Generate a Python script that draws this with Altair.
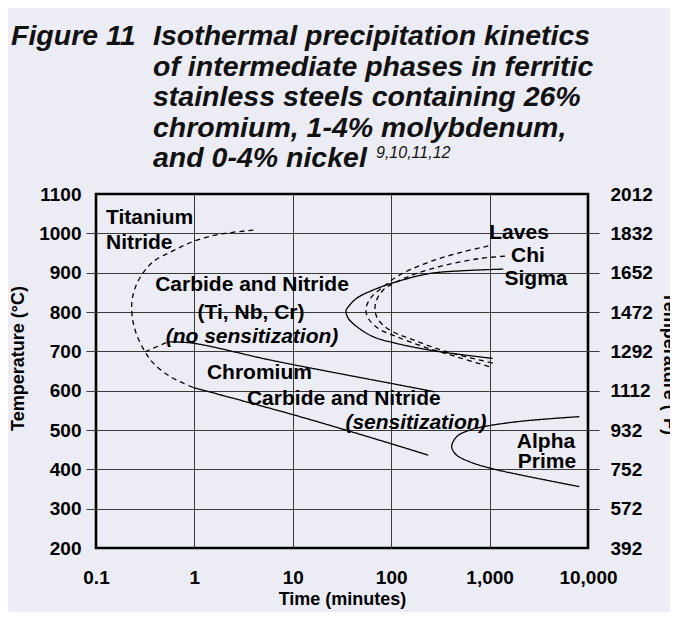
import altair as alt
import pandas as pd

# ---------------- data ----------------
# Titanium nitride C-curve (dashed), continuing into the lower chromium-carbide branch
ti_time = [3.97, 1.82, 1.01, 0.61, 0.382, 0.291, 0.249, 0.231, 0.236, 0.259, 0.315, 0.382, 0.565, 0.975]
ti_temp = [1008, 998, 981, 956, 928, 894, 860, 822, 780, 742, 699, 670, 636, 608]

# short dashed link from nose to upper chromium-carbide line
cr_link_time = [0.315, 0.54]
cr_link_temp = [699, 724]

# Chromium carbide and nitride (solid lines)
cr_upper_time = [0.54, 0.95, 5.87, 23.9, 97.2, 279]
cr_upper_temp = [724, 721, 678, 648, 619, 597]
cr_lower_time = [0.975, 11.8, 97.2, 238]
cr_lower_temp = [608, 534, 466, 436]

# Sigma (solid)
sigma_time = [1377, 541, 248, 113.7, 65.8, 44.6, 36.6, 34.7, 36.6, 44.6, 65.8, 113.7, 248, 541, 1074]
sigma_temp = [909, 905, 898, 877, 856, 835, 813, 803, 784, 763, 737, 720, 703, 691, 682]

# Laves (dashed)
laves_time = [970, 541, 290, 168, 114, 83, 63.4, 55.4, 58.5, 74, 114, 212, 463, 993]
laves_temp = [968, 953, 934, 911, 890, 864, 839, 809, 784, 758, 737, 712, 686, 661]

# Chi (dashed)
chi_time = [1435, 798, 366, 182, 114, 83, 71, 68.4, 74, 97.2, 168, 366, 1091]
chi_temp = [942, 936, 920, 898, 877, 856, 830, 805, 780, 754, 729, 699, 670]

# Alpha prime (solid)
alpha_time = [8166, 3802, 1884, 935, 632, 463, 412, 463, 632, 1009, 2037, 4437, 8166]
alpha_temp = [534, 528, 521, 510, 500, 483, 457, 436, 419, 403, 386, 369, 356]

# Region labels
label_text = ["Titanium", "Nitride", "Carbide and Nitride", "(Ti, Nb, Cr)", "(no sensitization)",
              "Chromium", "Carbide and Nitride", "(sensitization)", "Laves", "Chi", "Sigma",
              "Alpha", "Prime"]
label_time = [0.1264, 0.1264, 3.85, 3.76, 3.85, 1.34, 3.42, 178.6, 1991, 2455, 2965, 3741, 3828]
label_temp = [1039, 975, 869, 797, 736, 645, 579, 518, 1001, 942, 884, 469.5, 419]
label_kind = ["left", "left", "center", "center", "italic", "left", "left", "italic",
              "center", "center", "center", "center", "center"]

# Axis ticks
x_ticks = [0.1, 1, 10, 100, 1000, 10000]
y_ticks = [200, 300, 400, 500, 600, 700, 800, 900, 1000, 1100]

# Title text
fig_label = "Figure 11"
title_lines = ["Isothermal precipitation kinetics",
               "of intermediate phases in ferritic",
               "stainless steels containing 26%",
               "chromium, 1-4% molybdenum,",
               "and 0-4% nickel"]
title_refs = "9,10,11,12"

# ---------------- build tables ----------------
rows = []
def add(curve, style, times, temps):
    for i, (t, T) in enumerate(zip(times, temps)):
        rows.append({"curve": curve, "style": style, "order": i, "time": t, "temp": T})

add("ti", "dashed", ti_time, ti_temp)
add("crlink", "dashed", cr_link_time, cr_link_temp)
add("crup", "solid", cr_upper_time, cr_upper_temp)
add("crlo", "solid", cr_lower_time, cr_lower_temp)
add("sigma", "solid", sigma_time, sigma_temp)
add("laves", "dashed", laves_time, laves_temp)
add("chi", "dashed", chi_time, chi_temp)
add("alpha", "solid", alpha_time, alpha_temp)
curves = pd.DataFrame(rows)

labels = pd.DataFrame({"text": label_text, "time": label_time, "temp": label_temp, "kind": label_kind})
one = pd.DataFrame({"a": [0]})

AX_FONT = "Liberation Sans, Arial"
TXT_FONT = "Liberation Sans, Arial"
GRID = "#3a3a3a"
TICK_FS = 19
TITLE_FS = 18

x_scale = alt.Scale(type="log", domain=[0.1, 10000])
y_scale = alt.Scale(domain=[200, 1100], nice=False, zero=False)

edge_y = {"condition": {"test": "datum.value <= 200 || datum.value >= 1100", "value": 0}, "value": 1}
edge_x = {"condition": {"test": "datum.value <= 0.1001 || datum.value >= 9999", "value": 0}, "value": 1}

x_axis = alt.Axis(values=x_ticks, format=",~g", ticks=False, domain=False, grid=True,
                  gridColor=GRID, gridWidth=1, gridOpacity=edge_x,
                  labelFont=AX_FONT, labelFontSize=TICK_FS, labelFontWeight="bold", labelColor="black",
                  labelPadding=20, title="Time (minutes)", titleFont=AX_FONT, titleFontSize=TITLE_FS,
                  titleFontWeight="bold", titleColor="black", titleX=246, titleY=51,
                  titleBaseline="middle", titleAlign="center", labelFlush=False)

y_axis_left = alt.Axis(orient="left", values=y_ticks, format="d", ticks=True, tickSize=10, tickColor=GRID,
                       tickWidth=1, tickOpacity=edge_y, domain=False, grid=True, gridColor=GRID,
                       gridWidth=1, gridOpacity=edge_y,
                       labelFont=AX_FONT, labelFontSize=TICK_FS, labelFontWeight="bold", labelColor="black",
                       labelPadding=5, title="Temperature (°C)", titleFont=AX_FONT, titleFontSize=TITLE_FS,
                       titleFontWeight="bold", titleColor="black", titleAngle=270, titleX=-78,
                       titleY=164, titleBaseline="middle", titleAlign="center")

y_axis_right = alt.Axis(orient="right", values=y_ticks, ticks=True, tickSize=11, tickColor=GRID,
                        tickWidth=1, tickOpacity=edge_y, domain=False, grid=False,
                        labelExpr="format(datum.value * 1.8 + 32, 'd')",
                        labelFont=AX_FONT, labelFontSize=TICK_FS, labelFontWeight="bold", labelColor="black",
                        labelPadding=11, title="Temperature (°F)", titleFont=AX_FONT, titleFontSize=TITLE_FS,
                        titleFontWeight="bold", titleColor="black", titleAngle=90, titleX=80,
                        titleY=169, titleBaseline="middle", titleAlign="center")

lines = alt.Chart(curves).mark_line(interpolate="catmull-rom", color="black", strokeWidth=1.3).encode(
    x=alt.X("time:Q", scale=x_scale, axis=x_axis),
    y=alt.Y("temp:Q", scale=y_scale, axis=y_axis_left),
    detail="curve:N",
    order="order:Q",
    strokeDash=alt.StrokeDash("style:N", scale=alt.Scale(domain=["solid", "dashed"], range=[[1, 0], [5, 4]]),
                              legend=None),
)

def ann(kind, align, style, yaxis=None):
    return alt.Chart(labels).transform_filter(alt.datum.kind == kind).mark_text(
        align=align, baseline="middle", font=TXT_FONT, fontSize=21, fontWeight="bold",
        fontStyle=style, color="black"
    ).encode(
        x=alt.X("time:Q", scale=x_scale, axis=x_axis),
        y=alt.Y("temp:Q", scale=y_scale, axis=yaxis),
        text="text:N",
    )

ann_left = ann("left", "left", "normal")
ann_center = ann("center", "center", "normal", y_axis_right)
ann_italic = ann("italic", "center", "italic")

TITLE_FONT = "Liberation Sans, Arial"
t_fig = alt.Chart(one).mark_text(text=fig_label, align="left", baseline="alphabetic", font=TITLE_FONT,
                                 fontSize=28.5, fontWeight="bold", fontStyle="italic", color="#111").encode(
    x=alt.value(-85), y=alt.value(-149))
t_body = alt.Chart(one).mark_text(text=title_lines, align="left", baseline="alphabetic", font=TITLE_FONT,
                                  fontSize=28.5, fontWeight="bold", fontStyle="italic", lineHeight=30.5,
                                  color="#111").encode(
    x=alt.value(57), y=alt.value(-149))
t_refs = alt.Chart(one).mark_text(text=title_refs, align="left", baseline="alphabetic", font=TITLE_FONT,
                                  fontSize=16, fontStyle="italic", color="#111").encode(
    x=alt.value(280), y=alt.value(-36))

chart = alt.layer(lines, ann_left, ann_center, ann_italic, t_fig, t_body, t_refs).resolve_axis(
    y="independent"
).properties(
    width=492, height=354,
    autosize=alt.AutoSizeParams(type="none"),
    padding={"left": 88, "top": 186, "right": 82, "bottom": 64},
    background="#ECECF4",
).configure_view(stroke="black", strokeWidth=2.6)

chart.save("out.html", embed_options={"renderer": "svg", "actions": False})
